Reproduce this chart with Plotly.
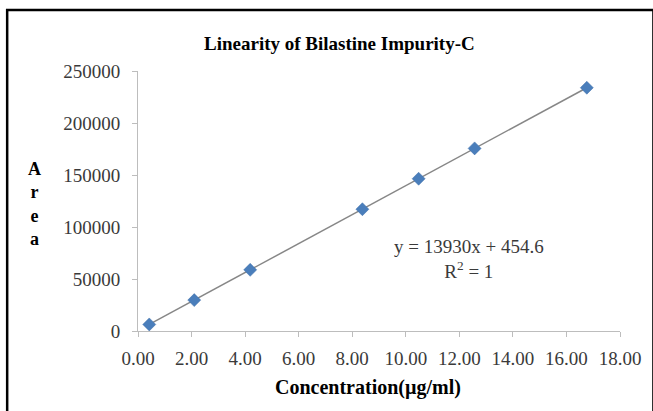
import numpy as np
import plotly.graph_objects as go

# Calibration data: concentration (µg/ml) vs peak area
concentration = [0.42, 2.10, 4.19, 8.38, 10.48, 12.57, 16.76]
area = [6300, 29700, 58800, 117100, 146400, 175600, 233900]

# Linear regression reported for the calibration line
slope = 13930
intercept = 454.6
r_squared = 1

x_ticks = [0, 2, 4, 6, 8, 10, 12, 14, 16, 18]
y_ticks = [0, 50000, 100000, 150000, 200000, 250000]

W, H = 653, 411
L, R, T, B = 138, 25, 71, 80
pw, ph = W - L - R, H - T - B


def px(x):
    return (x - L) / pw


def py(y):
    return (H - B - y) / ph


serif = "Liberation Serif, Times New Roman, serif"

fit_x = np.array([min(concentration), max(concentration)])
fit_y = slope * fit_x + intercept

fig = go.Figure()
fig.add_trace(go.Scatter(
    x=fit_x, y=fit_y, mode="lines",
    line=dict(color="#878787", width=1.5),
    hoverinfo="skip", showlegend=False,
))
fig.add_trace(go.Scatter(
    x=concentration, y=area, mode="markers",
    marker=dict(symbol="diamond", size=10, color="#4a7ebb",
                line=dict(color="#3f6fa8", width=0.5)),
    showlegend=False,
))

axis_common = dict(
    showgrid=False, zeroline=False, showline=True,
    linecolor="#bdbdbd", linewidth=1,
    ticks="outside", ticklen=5, tickcolor="#bdbdbd",
    tickfont=dict(family=serif, size=19, color="#3a3a3a"),
)

fig.update_xaxes(range=[0, 18], tickvals=x_ticks, tickformat=".2f",
                 ticklabelstandoff=5, **axis_common)
fig.update_yaxes(range=[0, 250000], tickvals=y_ticks, tickformat="d",
                 ticklabelstandoff=8, **axis_common)

fig.update_layout(
    width=W, height=H,
    margin=dict(l=L, r=R, t=T, b=B),
    paper_bgcolor="white", plot_bgcolor="white",
    shapes=[dict(
        type="rect", xref="paper", yref="paper",
        x0=px(5), x1=px(662), y0=py(420), y1=py(10),
        line=dict(color="black", width=2.5), fillcolor="rgba(0,0,0,0)",
        layer="below",
    )],
    annotations=[
        dict(text="<b>Linearity of Bilastine Impurity-C</b>",
             x=px(343), y=py(44), xref="paper", yref="paper",
             showarrow=False, xanchor="center", yanchor="middle",
             font=dict(family=serif, size=19, color="black")),
        dict(text="<b>Concentration(µg/ml)</b>",
             x=px(372), y=py(387), xref="paper", yref="paper",
             showarrow=False, xanchor="center", yanchor="middle",
             font=dict(family=serif, size=20, color="black")),
        dict(text="<b>A<br>r<br>e<br>a</b>",
             x=px(33), y=py(204), xref="paper", yref="paper",
             showarrow=False, xanchor="center", yanchor="middle",
             font=dict(family=serif, size=18, color="black")),
        dict(text=f"y = {slope}x + {intercept}<br>R<sup>2</sup> = {r_squared}",
             x=px(475), y=py(259), xref="paper", yref="paper",
             showarrow=False, xanchor="center", yanchor="middle",
             align="center",
             font=dict(family=serif, size=19, color="#3a3a3a")),
    ],
)

fig.write_html("out.html")
